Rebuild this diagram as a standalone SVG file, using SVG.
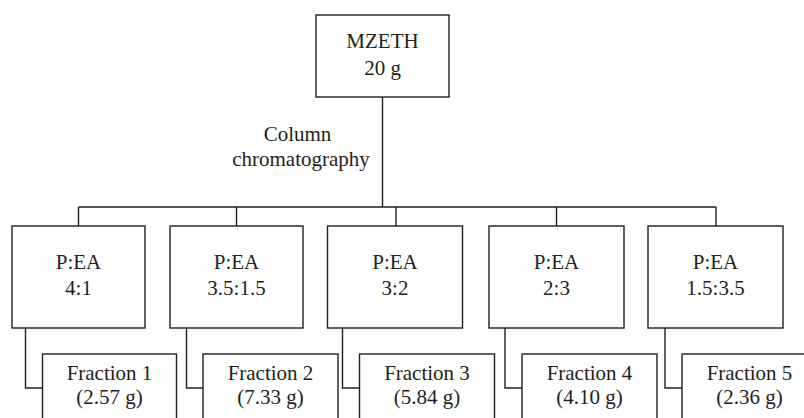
<svg xmlns="http://www.w3.org/2000/svg" width="804" height="418" viewBox="0 0 804 418">
<style>
.b{fill:#fff;stroke:#231f20;stroke-width:1.4}
.c{fill:none;stroke:#231f20;stroke-width:1.4}
text{font-family:"Liberation Serif","Times New Roman",serif;font-size:21px;fill:#231f20;text-anchor:middle}
</style>
<rect width="804" height="418" fill="#fff"/>
<g id="connectors">
<path class="c" d="M382.5 97V207M78.5 207H716M78.5 207V226M236.5 207V226M396 207V226M556.5 207V226M716 207V226"/>
<path class="c" d="M25.5 328V388H42M186.5 328V388H203M342.5 328V388H359M505 328V388H522M665 328V388H682"/>
</g>
<g id="mzeth"><rect class="b" x="316" y="15" width="133" height="82"/><text x="382.5" y="48">MZETH</text><text x="382.5" y="75">20 g</text></g>
<g id="label"><text x="297.5" y="141">Column</text><text x="301" y="166">chromatography</text></g>
<g id="p1"><rect class="b" x="12" y="226" width="133" height="102"/><text x="78.5" y="269">P:EA</text><text x="78.5" y="295">4:1</text></g>
<g id="p2"><rect class="b" x="170" y="226" width="133" height="102"/><text x="236.5" y="269">P:EA</text><text x="236.5" y="295">3.5:1.5</text></g>
<g id="p3"><rect class="b" x="327.5" y="226" width="135" height="102"/><text x="395" y="269">P:EA</text><text x="395" y="295">3:2</text></g>
<g id="p4"><rect class="b" x="489" y="226" width="135" height="102"/><text x="556.5" y="269">P:EA</text><text x="556.5" y="295">2:3</text></g>
<g id="p5"><rect class="b" x="648" y="226" width="135" height="102"/><text x="715.5" y="269">P:EA</text><text x="715.5" y="295">1.5:3.5</text></g>
<g id="f1"><rect class="b" x="42.5" y="354" width="134" height="80"/><text x="109.5" y="380">Fraction 1</text><text x="109.5" y="404">(2.57 g)</text></g>
<g id="f2"><rect class="b" x="203" y="354" width="135" height="80"/><text x="270.5" y="380">Fraction 2</text><text x="270.5" y="404">(7.33 g)</text></g>
<g id="f3"><rect class="b" x="359.5" y="354" width="135" height="80"/><text x="427" y="380">Fraction 3</text><text x="427" y="404">(5.84 g)</text></g>
<g id="f4"><rect class="b" x="522" y="354" width="135" height="80"/><text x="589.5" y="380">Fraction 4</text><text x="589.5" y="404">(4.10 g)</text></g>
<g id="f5"><rect class="b" x="682" y="354" width="135" height="80"/><text x="749.5" y="380">Fraction 5</text><text x="749.5" y="404">(2.36 g)</text></g>
</svg>
